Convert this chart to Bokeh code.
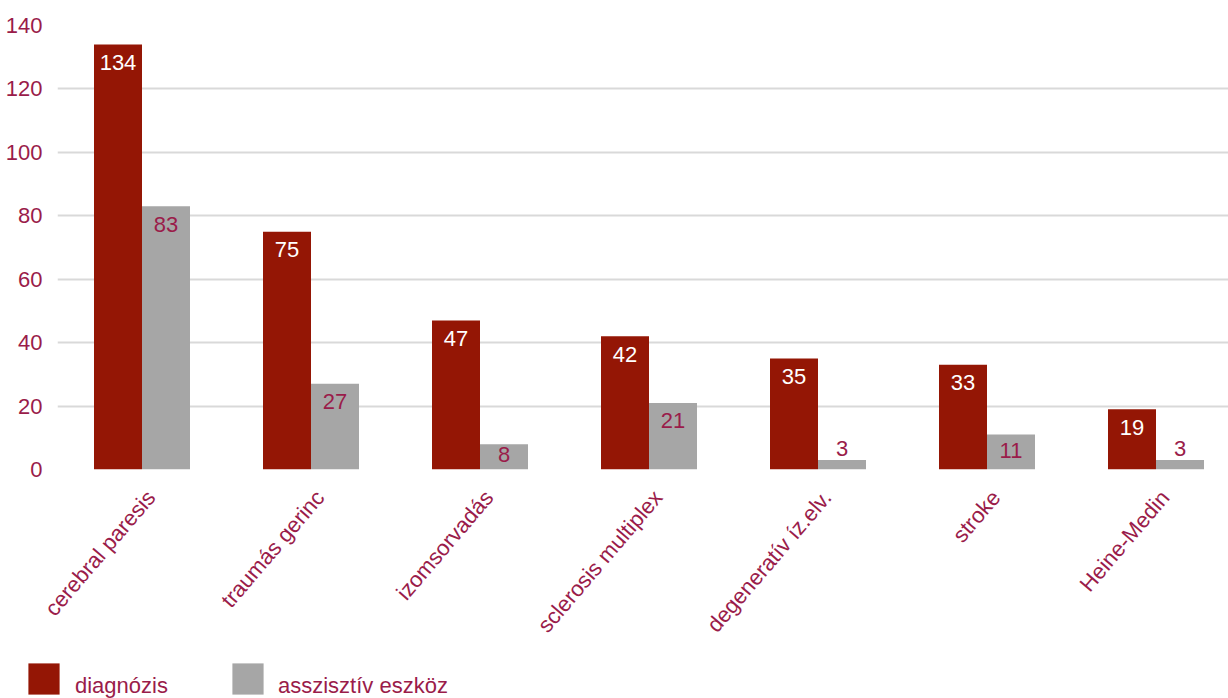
import math
from bokeh.plotting import figure
from bokeh.layouts import column
from bokeh.models import ColumnDataSource, FixedTicker, Legend, LegendItem, Range1d
from bokeh.core.properties import value
from bokeh.embed import file_html
from bokeh.resources import INLINE

categories = ["cerebral paresis", "traumás gerinc", "izomsorvadás", "sclerosis multiplex",
              "degeneratív íz.elv.", "stroke", "Heine-Medin"]
diagnozis = [134, 75, 47, 42, 35, 33, 19]
eszkoz = [83, 27, 8, 21, 3, 11, 3]
y_ticks = [0, 20, 40, 60, 80, 100, 120, 140]
series_names = ["diagnózis", "asszisztív eszköz"]

RED = "#941605"
GRAY = "#a6a6a6"
TXT = "#9a1c4a"
FONT = "Liberation Sans"
FS = "22px"

W = 1228
H1 = 648
H2 = 698 - H1
left, top_b = 57, 25
frame_h = 444
bottom_b = H1 - top_b - frame_h
frame_w = W - left
ppu = frame_h / 140.0  # pixels per unit


def label_offsets(vals):
    """Excel-like 'inside end' placement; too-short bars get the label above."""
    offs = []
    for v in vals:
        px = v * ppu
        if px < 20:
            offs.append(-11)
        else:
            offs.append(min(18, px / 2 - 2))
    return offs


idx = list(range(len(categories)))
bw = 0.284
src_d = ColumnDataSource(dict(x=[i - bw / 2 for i in idx], top=diagnozis,
                              lab=[str(v) for v in diagnozis], off=label_offsets(diagnozis)))
src_e = ColumnDataSource(dict(x=[i + bw / 2 for i in idx], top=eszkoz,
                              lab=[str(v) for v in eszkoz], off=label_offsets(eszkoz)))

p = figure(width=W, height=H1, output_backend="svg", toolbar_location=None,
           x_range=Range1d(-0.5, -0.5 + frame_w / 169.0), y_range=Range1d(0, 140),
           min_border_left=left, min_border_right=0, min_border_top=top_b,
           min_border_bottom=bottom_b)
p.outline_line_color = None
p.frame_align = False

p.vbar(x="x", top="top", width=bw, bottom=0, source=src_d, fill_color=RED, line_color=None)
p.vbar(x="x", top="top", width=bw, bottom=0, source=src_e, fill_color=GRAY, line_color=None)

p.text(x="x", y="top", text="lab", source=src_d, text_color="white", text_align="center",
       text_baseline="middle", y_offset="off", text_font=value(FONT), text_font_size=FS)
p.text(x="x", y="top", text="lab", source=src_e, text_color=TXT, text_align="center",
       text_baseline="middle", y_offset="off", text_font=value(FONT), text_font_size=FS)

p.xgrid.grid_line_color = None
p.ygrid.grid_line_color = "#d9d9d9"
p.ygrid.grid_line_width = 2
p.ygrid.ticker = FixedTicker(ticks=y_ticks)

p.yaxis.ticker = FixedTicker(ticks=y_ticks)
p.yaxis.axis_line_color = None
p.yaxis.major_tick_line_color = None
p.yaxis.minor_tick_line_color = None
p.yaxis.major_label_text_color = TXT
p.yaxis.major_label_text_font = FONT
p.yaxis.major_label_text_font_size = FS
p.yaxis.major_label_standoff = 9

lab_shift = 0.053
xt = [i + lab_shift for i in idx]
p.xaxis.ticker = FixedTicker(ticks=xt)
p.xaxis.major_label_overrides = {t: c for t, c in zip(xt, categories)}
p.xaxis.major_label_orientation = 0.864
p.xaxis.axis_line_color = None
p.xaxis.major_tick_line_color = None
p.xaxis.minor_tick_line_color = None
p.xaxis.major_label_text_color = TXT
p.xaxis.major_label_text_font = FONT
p.xaxis.major_label_text_font_size = FS
p.xaxis.major_label_standoff = 18

# legend strip
q = figure(width=W, height=H2, output_backend="svg", toolbar_location=None,
           x_axis_type=None, y_axis_type=None, x_range=Range1d(0, 1), y_range=Range1d(0, 1),
           min_border_left=0, min_border_right=0, min_border_top=0, min_border_bottom=0)
q.outline_line_color = None
q.frame_align = False
q.xgrid.grid_line_color = None
q.ygrid.grid_line_color = None
lr1 = q.vbar(x=[5], top=[5], bottom=[4], width=0.1, fill_color=RED, line_color=None)
lr2 = q.vbar(x=[5], top=[5], bottom=[4], width=0.1, fill_color=GRAY, line_color=None)
lt1 = q.vbar(x=[5], top=[5], bottom=[4], width=0.1, fill_alpha=0, line_color=None)
lt2 = q.vbar(x=[5], top=[5], bottom=[4], width=0.1, fill_alpha=0, line_color=None)

common = dict(orientation="horizontal", glyph_width=39, glyph_height=39, label_standoff=12,
              label_width=20, padding=0, margin=0, border_line_color=None,
              background_fill_alpha=0, label_text_font=FONT, label_text_font_size=FS)
# colour squares
legend_sq = Legend(items=[LegendItem(label=" ", renderers=[lr1]),
                          LegendItem(label=" ", renderers=[lr2])],
                   location=(24, 0), spacing=133, label_text_color=TXT, **common)
# texts, sitting a little lower than the squares' centre
legend_tx = Legend(items=[LegendItem(label=series_names[0], renderers=[lt1]),
                          LegendItem(label=series_names[1], renderers=[lt2])],
                   location=(24, -7), spacing=59, label_text_color=TXT, **common)
q.add_layout(legend_sq, "center")
q.add_layout(legend_tx, "center")

layout = column(p, q, spacing=0)
open("out.html", "w").write(file_html(layout, INLINE))
